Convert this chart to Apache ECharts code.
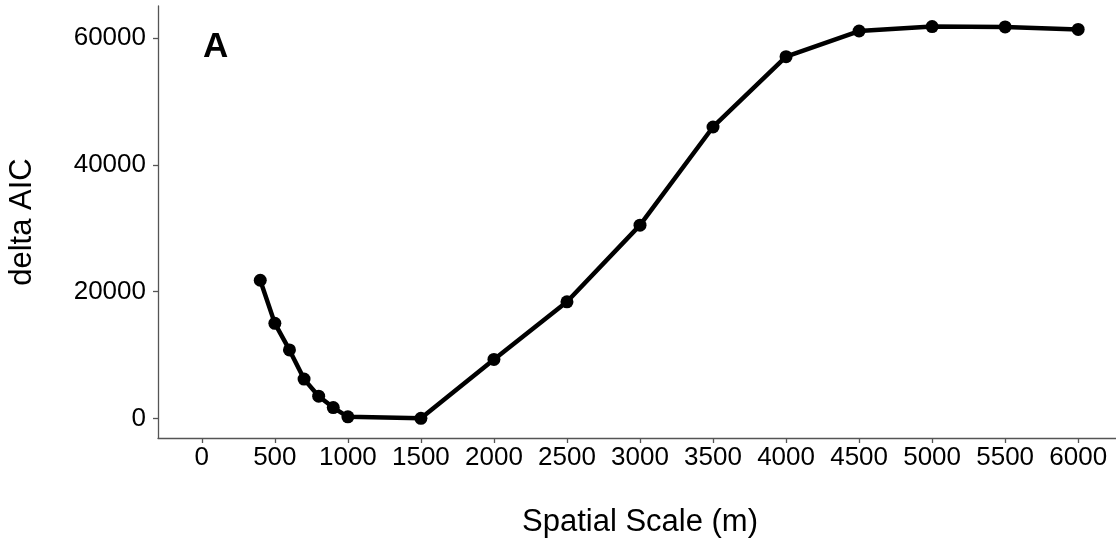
<!DOCTYPE html>
<html>
<head>
<meta charset="utf-8">
<script src="https://cdn.jsdelivr.net/npm/echarts@6/dist/echarts.min.js"></script>
<style>
  html, body { margin: 0; padding: 0; background: #fff; }
  #chart { width: 1116px; height: 542px; }
</style>
</head>
<body>
<div id="chart"></div>
<script>
// Spatial scale (m) at which each model was fitted
const scales = [400, 500, 600, 700, 800, 900, 1000, 1500, 2000, 2500, 3000, 3500, 4000, 4500, 5000, 5500, 6000];
// delta AIC relative to the best-supported scale
const deltaAIC = [21800, 15000, 10800, 6200, 3500, 1700, 250, 0, 9300, 18400, 30500, 46000, 57100, 61150, 61850, 61800, 61400];
// tick values
const xTicks = [0, 500, 1000, 1500, 2000, 2500, 3000, 3500, 4000, 4500, 5000, 5500, 6000];
const yTicks = [0, 20000, 40000, 60000];
const panelLabel = 'A';

const font = '"Liberation Sans", Arial, sans-serif';
const axisGrey = '#555';

const chart = echarts.init(document.getElementById('chart'), null, { renderer: 'canvas' });

chart.setOption({
  animation: false,
  backgroundColor: '#fff',
  grid: { left: 158, top: 6, width: 964, height: 432, containLabel: false, outerBoundsMode: 'none' },
  xAxis: {
    type: 'value',
    min: -300,
    max: 6300,
    name: 'Spatial Scale (m)',
    nameLocation: 'middle',
    nameGap: 69,
    nameTextStyle: { fontFamily: font, fontSize: 31, color: '#000' },
    axisLine: { show: true, onZero: false, lineStyle: { color: axisGrey, width: 1.3 } },
    axisTick: { show: true, length: 5, customValues: xTicks, lineStyle: { color: axisGrey, width: 1.3 } },
    axisLabel: { customValues: xTicks, margin: 7, fontFamily: font, fontSize: 26, color: '#000', formatter: v => String(v) },
    splitLine: { show: false }
  },
  yAxis: {
    type: 'value',
    min: -3100,
    max: 65100,
    name: 'delta AIC',
    nameLocation: 'middle',
    nameGap: 120,
    nameRotate: 90,
    nameTextStyle: { fontFamily: font, fontSize: 31, color: '#000' },
    axisLine: { show: true, onZero: false, lineStyle: { color: axisGrey, width: 1.3 } },
    axisTick: { show: true, length: 5, customValues: yTicks, lineStyle: { color: axisGrey, width: 1.3 } },
    axisLabel: { customValues: yTicks, margin: 12, fontFamily: font, fontSize: 26, color: '#000', formatter: v => String(v) },
    splitLine: { show: false }
  },
  graphic: [{
    type: 'text',
    left: 203,
    top: 30,
    style: { text: panelLabel, font: 'bold 35px ' + font, fill: '#000' }
  }],
  series: [{
    type: 'line',
    data: scales.map((s, i) => [s, deltaAIC[i]]),
    symbol: 'circle',
    symbolSize: 13,
    showAllSymbol: true,
    lineStyle: { color: '#000', width: 4.5 },
    itemStyle: { color: '#000' },
    clip: false
  }]
});
</script>
</body>
</html>
